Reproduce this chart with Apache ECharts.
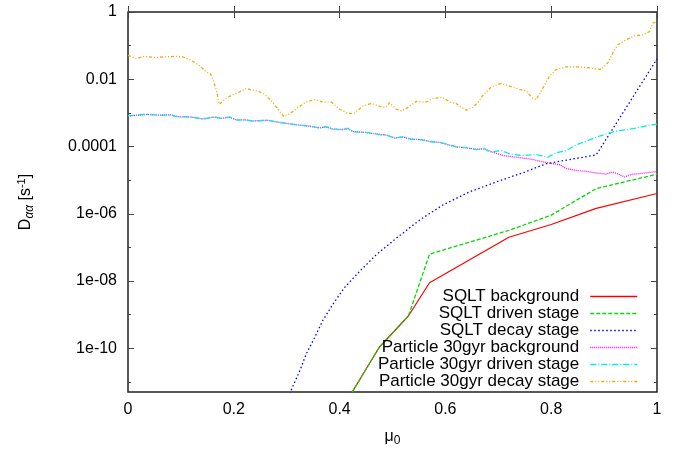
<!DOCTYPE html>
<html>
<head>
<meta charset="utf-8">
<script src="https://cdn.jsdelivr.net/npm/echarts@6/dist/echarts.min.js"></script>
<style>
  html, body { margin: 0; padding: 0; background: #fff; }
  #chart { width: 686px; height: 452px; }
</style>
</head>
<body>
<div id="chart"></div>
<script>
// Pitch-angle diffusion coefficient D_aa versus initial pitch cosine mu_0.

const seriesNames = [
  'SQLT background',
  'SQLT driven stage',
  'SQLT decay stage',
  'Particle 30gyr background',
  'Particle 30gyr driven stage',
  'Particle 30gyr decay stage'
];

// SQLT (quasi-linear) results, coarse mu grid
const sqltMu = [0.40, 0.475, 0.53, 0.57, 0.72, 0.80, 0.885, 1.0];
const sqltBackground = [1.2e-12, 1.07e-10, 9.1e-10, 8.9e-9, 2.0e-7, 4.8e-7, 1.45e-6, 4.0e-6];
const sqltDriven     = [1.2e-12, 1.07e-10, 9.1e-10, 6.3e-8, 3.2e-7, 9.1e-7, 5.6e-6, 1.5e-5];

const sqltDecayMu = [0.29, 0.307, 0.325, 0.337, 0.353, 0.368, 0.387, 0.409, 0.438, 0.469,
  0.507, 0.553, 0.595, 0.646, 0.702, 0.75, 0.791, 0.885, 1.0];
const sqltDecay = [1.26e-12, 5.0e-12, 2.2e-11, 6.8e-11, 2.1e-10, 6.6e-10, 2.0e-9, 6.3e-9, 1.95e-8, 6.0e-8,
  1.86e-7, 6.8e-7, 1.82e-6, 4.5e-6, 9.5e-6, 1.74e-5, 3.1e-5, 5.6e-5, 0.04];

// Test-particle results (30 gyro periods)
const partMu = [0.0, 0.0185, 0.0344, 0.0563, 0.0817, 0.0941, 0.1195, 0.1414, 0.1635, 0.1762,
  0.1919, 0.2045, 0.2202, 0.2359, 0.2643, 0.2832, 0.3021, 0.321, 0.3431, 0.362,
  0.3747, 0.3871, 0.406, 0.4155, 0.425, 0.4503, 0.4754, 0.4881, 0.5038, 0.5195,
  0.5354, 0.5543, 0.5699, 0.5888, 0.6078, 0.6234, 0.6393, 0.6582, 0.6726, 0.6834,
  0.7055, 0.7212, 0.7463, 0.7716, 0.7936, 0.8094, 0.8284, 0.8473, 0.8662, 0.8851,
  0.904, 0.9229, 0.9418, 0.9607, 0.9796, 1.0];
const partDriven = [8.2e-4, 8.6e-4, 9.2e-4, 8.6e-4, 8.6e-4, 7.6e-4, 7.6e-4, 6.5e-4, 7.6e-4, 6.8e-4,
  7.6e-4, 6.1e-4, 6.2e-4, 5.7e-4, 6.1e-4, 5.2e-4, 4.9e-4, 4.3e-4, 4.1e-4, 3.5e-4,
  3.9e-4, 3.3e-4, 3.15e-4, 3.5e-4, 2.75e-4, 2.64e-4, 2.25e-4, 2.2e-4, 1.79e-4, 1.96e-4,
  1.64e-4, 1.6e-4, 1.4e-4, 1.34e-4, 1.12e-4, 9.5e-5, 9.3e-5, 8.1e-5, 8.9e-5, 6.8e-5,
  7.6e-5, 6.0e-5, 5.4e-5, 5.8e-5, 4.8e-5, 6.5e-5, 7.6e-5, 1.12e-4, 1.43e-4, 1.88e-4,
  2.35e-4, 2.88e-4, 3.15e-4, 3.54e-4, 4.13e-4, 4.6e-4];

const partBackMu = [0.0, 0.0185, 0.0344, 0.0563, 0.0817, 0.0941, 0.1195, 0.1414, 0.1635, 0.1762,
  0.1919, 0.2045, 0.2202, 0.2359, 0.2643, 0.2832, 0.3021, 0.321, 0.3431, 0.362,
  0.3747, 0.3871, 0.406, 0.4155, 0.425, 0.4503, 0.4754, 0.4881, 0.5038, 0.5195,
  0.5354, 0.5543, 0.5699, 0.5888, 0.6078, 0.6234, 0.6393, 0.6582, 0.6726, 0.6896,
  0.7085, 0.7338, 0.759, 0.7779, 0.7968, 0.8157, 0.8284, 0.8473, 0.8662, 0.8851,
  0.904, 0.9164, 0.9291, 0.9386, 0.9512, 0.9669, 0.9826, 1.0];
const partBackground = [8.1e-4, 8.5e-4, 9.0e-4, 8.6e-4, 8.7e-4, 7.7e-4, 7.5e-4, 6.6e-4, 7.5e-4, 6.9e-4,
  7.4e-4, 6.2e-4, 6.2e-4, 5.8e-4, 6.0e-4, 5.3e-4, 4.8e-4, 4.4e-4, 4.0e-4, 3.6e-4,
  3.8e-4, 3.3e-4, 3.2e-4, 3.4e-4, 2.8e-4, 2.6e-4, 2.3e-4, 2.2e-4, 1.8e-4, 1.9e-4,
  1.65e-4, 1.6e-4, 1.4e-4, 1.33e-4, 1.1e-4, 9.6e-5, 9.2e-5, 8.2e-5, 8.5e-5, 6.8e-5,
  5.4e-5, 4.8e-5, 4.3e-5, 3.7e-5, 3.2e-5, 2.9e-5, 2.2e-5, 1.95e-5, 1.82e-5, 1.63e-5,
  1.52e-5, 1.75e-5, 1.45e-5, 1.24e-5, 1.48e-5, 1.56e-5, 1.66e-5, 1.82e-5];

const partDecayMu = [0.0, 0.0155, 0.0312, 0.0501, 0.069, 0.0879, 0.1036, 0.1195, 0.1352, 0.1478,
  0.156, 0.1603, 0.1667, 0.173, 0.1824, 0.1951, 0.2108, 0.2234, 0.2329, 0.2454,
  0.258, 0.2707, 0.2832, 0.2945, 0.3053, 0.321, 0.3369, 0.3544, 0.3682, 0.3841,
  0.3998, 0.4155, 0.4282, 0.4439, 0.4597, 0.4754, 0.4868, 0.4943, 0.507, 0.5164,
  0.5289, 0.5448, 0.5637, 0.5762, 0.5951, 0.611, 0.6204, 0.6267, 0.6393, 0.6518,
  0.6645, 0.6707, 0.6866, 0.7055, 0.7244, 0.7401, 0.7527, 0.7652, 0.7716, 0.7811,
  0.7968, 0.8094, 0.8284, 0.8535, 0.8724, 0.8945, 0.907, 0.9164, 0.9259, 0.9418,
  0.9575, 0.9732, 0.9858, 0.9921, 1.0];
const partDecay = [0.0514, 0.0411, 0.048, 0.0449, 0.0461, 0.048, 0.0461, 0.0366, 0.0255, 0.0166,
  0.0148, 0.0099, 0.005, 0.0018, 0.0025, 0.0033, 0.0042, 0.0054, 0.0048, 0.0045,
  0.0036, 0.0023, 0.0013, 0.00078, 0.00092, 0.00144, 0.0021, 0.0025, 0.0021, 0.0021,
  0.0013, 0.00096, 0.00098, 0.0016, 0.0019, 0.0016, 0.00144, 0.002, 0.0013, 0.00115,
  0.00144, 0.0022, 0.0021, 0.0027, 0.0029, 0.002, 0.0019, 0.0016, 0.0012, 0.00144,
  0.0023, 0.0033, 0.0059, 0.0075, 0.006, 0.005, 0.0045, 0.0027, 0.0025, 0.0045,
  0.0123, 0.0195, 0.0234, 0.0234, 0.0218, 0.0195, 0.0307, 0.0605, 0.106, 0.149,
  0.196, 0.21, 0.262, 0.464, 0.52];

// Axis ranges and tick labels
const xTickStep = 0.2;
const yRange = [5e-12, 1];
const yTickValues = [1, 1e-2, 1e-4, 1e-6, 1e-8, 1e-10];
const yTickLabels = ['1', '0.01', '0.0001', '1e-06', '1e-08', '1e-10'];
const yMinorTickValues = [1e-1, 1e-3, 1e-5, 1e-7, 1e-9, 1e-11];

const FONT = '"Liberation Sans", Arial, Helvetica, sans-serif';
const colors = ['#ff0000', '#00dd00', '#0000ff', '#ff00ff', '#00eeee', '#ffa500'];
const dashes = [
  'solid',
  [4, 2],
  [1.5, 2.5],
  [1, 1],
  [6, 2, 1, 2],
  [3, 2, 1, 2, 1, 2]
];

function pairs(xs, ys) { return xs.map((x, i) => [x, ys[i]]); }
const seriesData = [
  pairs(sqltMu, sqltBackground),
  pairs(sqltMu, sqltDriven),
  pairs(sqltDecayMu, sqltDecay),
  pairs(partBackMu, partBackground),
  pairs(partMu, partDriven),
  pairs(partDecayMu, partDecay)
];

const expLo = Math.log10(yRange[0]);
const majorExp = yTickValues.map(v => Math.log10(v));
const minorExp = yMinorTickValues.map(v => Math.log10(v));

// Overlay axes in exponent space that only carry the decade ticks and labels
function tickAxis(position, values, len, withLabels) {
  return {
    type: 'value', position: position, min: expLo, max: 0,
    axisLine: { show: false }, splitLine: { show: false },
    axisTick: { show: true, inside: true, length: len, customValues: values,
      lineStyle: { color: '#444', width: 1 } },
    axisLabel: withLabels ? {
      show: true, customValues: values, margin: 11, color: '#000',
      fontFamily: FONT, fontSize: 16,
      formatter: function (val) {
        const i = majorExp.findIndex(e => Math.abs(e - val) < 1e-6);
        return i >= 0 ? yTickLabels[i] : '';
      }
    } : { show: false }
  };
}

const chart = echarts.init(document.getElementById('chart'), null, { renderer: 'canvas' });

chart.setOption({
  animation: false,
  backgroundColor: '#fff',
  grid: { left: 128, right: 29, top: 12, bottom: 57, show: true,
    borderColor: '#222', borderWidth: 1.5, backgroundColor: 'transparent' },
  xAxis: [
    {
      type: 'value', position: 'bottom', min: 0, max: 1, interval: xTickStep,
      axisLine: { show: false }, splitLine: { show: false },
      axisTick: { inside: true, length: 6, lineStyle: { color: '#444' } },
      axisLabel: { margin: 10, color: '#000', fontFamily: FONT, fontSize: 16 },
      name: 'μ{s|0}', nameLocation: 'middle', nameGap: 34,
      nameTextStyle: { color: '#000', fontFamily: FONT, fontSize: 16,
        rich: { s: { fontFamily: FONT, fontSize: 12, padding: [9, 0, 0, 0], color: '#000' } } }
    },
    {
      type: 'value', position: 'top', min: 0, max: 1, interval: xTickStep,
      axisLine: { show: false }, splitLine: { show: false },
      axisTick: { inside: true, length: 6, lineStyle: { color: '#444' } },
      axisLabel: { show: false }
    }
  ],
  yAxis: [
    {
      type: 'log', logBase: 10, min: yRange[0], max: yRange[1], position: 'left',
      axisLine: { show: false }, axisTick: { show: false }, axisLabel: { show: false },
      splitLine: { show: false }, minorTick: { show: false },
      name: 'D{s|αα} [s{p|-1}]', nameLocation: 'middle', nameGap: 92,
      nameTextStyle: { color: '#000', fontFamily: FONT, fontSize: 16,
        rich: {
          s: { fontFamily: FONT, fontSize: 12, fontStyle: 'italic', padding: [9, 0, 0, 0], color: '#000' },
          p: { fontFamily: FONT, fontSize: 11, padding: [0, 0, 8, 0], color: '#000' }
        } }
    },
    tickAxis('left', majorExp, 6, true),
    tickAxis('left', minorExp, 3, false),
    tickAxis('right', majorExp, 6, false),
    tickAxis('right', minorExp, 3, false)
  ],
  // One key entry per row so every row can be right-aligned against the sample lines
  legend: seriesNames.map((name, i) => ({
    data: [name],
    right: 48,
    top: 288 + 17 * i,
    orient: 'horizontal',
    align: 'right',
    padding: 0,
    itemGap: 0,
    itemWidth: 47,
    itemHeight: 11,
    selectedMode: false,
    itemStyle: { opacity: 0, borderWidth: 0 },
    lineStyle: { color: colors[i], width: 1.5, type: dashes[i], opacity: 1 },
    textStyle: { color: '#000', fontFamily: FONT, fontSize: 17, padding: [0, 6, 0, 0] }
  })),
  series: seriesNames.map((name, i) => ({
    name: name,
    type: 'line',
    xAxisIndex: 0,
    yAxisIndex: 0,
    data: seriesData[i],
    symbol: 'none',
    showSymbol: false,
    clip: true,
    silent: true,
    lineStyle: { color: colors[i], width: i === 0 ? 1.2 : 1.3, type: dashes[i] },
    itemStyle: { color: colors[i] },
    z: 2 + i
  }))
});
</script>
</body>
</html>
